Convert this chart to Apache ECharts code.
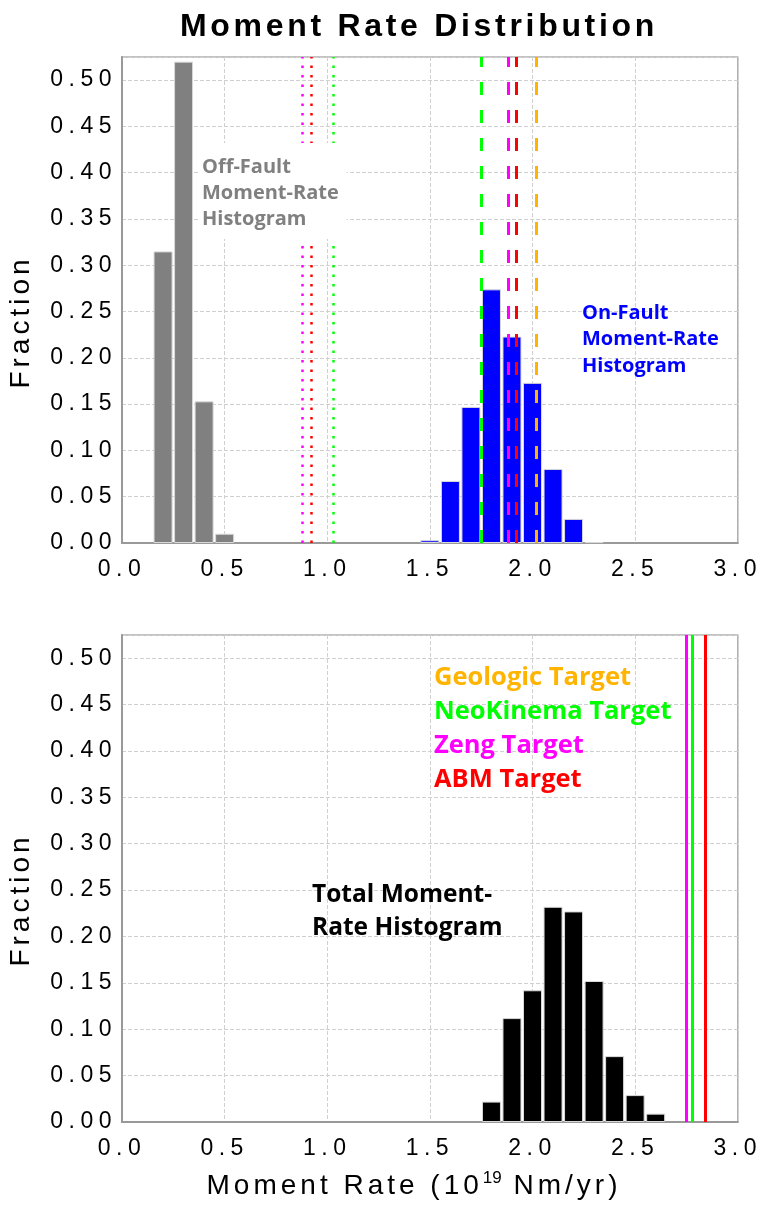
<!DOCTYPE html>
<html><head><meta charset="utf-8">
<script src="https://cdn.jsdelivr.net/npm/echarts@6/dist/echarts.min.js"></script>
<style>html,body{margin:0;padding:0;background:#fff}#c{width:765px;height:1208px}</style>
</head><body><div id="c"></div>
<script>
// ---------------- data ----------------
const offFaultBins = [0.2, 0.3, 0.4, 0.5];
const offFaultFrac = [0.315, 0.520, 0.153, 0.010];
const onFaultBins = [1.5, 1.6, 1.7, 1.8, 1.9, 2.0, 2.1, 2.2, 2.3];
const onFaultFrac = [0.003, 0.067, 0.147, 0.274, 0.223, 0.173, 0.080, 0.026, 0.001];
const totalBins = [1.8, 1.9, 2.0, 2.1, 2.2, 2.3, 2.4, 2.5, 2.6];
const totalFrac = [0.022, 0.112, 0.142, 0.232, 0.227, 0.152, 0.071, 0.029, 0.009];

const targetNames = ['Geologic Target', 'NeoKinema Target', 'Zeng Target', 'ABM Target'];
const targetColors = ['#ffb400', '#00ff00', '#ff00ff', '#ff0000'];
// off-fault targets (dotted), on-fault targets (dashed), total targets (solid); null = not shown
const offFaultTargets = [null, 1.031, 0.875, 0.924];
const onFaultTargets = [2.016, 1.751, 1.880, 1.919];
const totalTargets = [null, 2.782, 2.751, 2.843];

const xTicks = { min: 0, max: 3, interval: 0.5 };
const yTicks = { min: 0, max: 0.525, interval: 0.05 };

// ------------- letter spacing for the Helvetica-like texts -------------
const SPACING = { '23': 5.5, '28': 4, '32': 3.7 };
function applySpacing(ctx) {
  const f = ctx.font || '';
  if (f.indexOf('Liberation Sans') < 0) return false;
  const m = f.match(/(\d+(?:\.\d+)?)px/);
  const s = m && SPACING[m[1]];
  if (!s || !('letterSpacing' in ctx)) return false;
  ctx.letterSpacing = s + 'px';
  return true;
}
['fillText', 'strokeText', 'measureText'].forEach(fn => {
  const orig = CanvasRenderingContext2D.prototype[fn];
  CanvasRenderingContext2D.prototype[fn] = function () {
    const had = applySpacing(this);
    const r = orig.apply(this, arguments);
    if (had) this.letterSpacing = '0px';
    return r;
  };
});

// ---------------- chart ----------------
const pairs = (xs, ys) => xs.map((x, i) => [x, ys[i]]);
const lines = (vals, type, width) => vals.map((v, i) => v == null ? null : {
  xAxis: v, lineStyle: { color: targetColors[i], type: type, width: width }
}).filter(Boolean);

const tickFont = { fontFamily: 'Liberation Sans', fontSize: 23, color: '#000' };

function xAxis(idx) {
  return {
    type: 'value', gridIndex: idx, min: xTicks.min, max: xTicks.max, interval: xTicks.interval,
    axisLine: { show: true, onZero: false, lineStyle: { color: '#999', width: 2 } },
    axisTick: { show: false },
    axisLabel: Object.assign({ margin: 12, formatter: v => v.toFixed(1) }, tickFont),
    splitLine: { show: true, lineStyle: { type: 'dashed', color: '#d0d0d0', width: 1 } }
  };
}
function yAxis(idx) {
  return {
    type: 'value', gridIndex: idx, min: yTicks.min, max: yTicks.max, interval: yTicks.interval,
    axisLine: { show: true, lineStyle: { color: '#999', width: 2 } },
    axisTick: { show: false },
    axisLabel: Object.assign({
      margin: 5,
      formatter: v => Math.abs(v / 0.05 - Math.round(v / 0.05)) < 1e-6 ? v.toFixed(2) : ''
    }, tickFont),
    splitLine: { show: true, lineStyle: { type: 'dashed', color: '#d0d0d0', width: 1 } }
  };
}

const barStyle = c => ({ color: c, borderColor: '#d8d8d8', borderWidth: 1 });
const ML = { symbol: ['none', 'none'], silent: true, animation: false, label: { show: false } };

const annot = (text, x, y, color, size, lh, extra) => Object.assign({
  type: 'text', z: 100,
  style: Object.assign({ text: text, x: x, y: y, fill: color, font: 'bold ' + size + 'px "Open Sans"', lineHeight: lh, align: 'left', verticalAlign: 'top' }, extra || {})
});

const option = {
  animation: false,
  backgroundColor: '#fff',
  grid: [
    { left: 122, top: 57, width: 618, height: 486, show: true, borderColor: '#b0b0b0', borderWidth: 1.5, backgroundColor: 'transparent' },
    { left: 122, top: 635, width: 618, height: 487, show: true, borderColor: '#b0b0b0', borderWidth: 1.5, backgroundColor: 'transparent' }
  ],
  xAxis: [xAxis(0), xAxis(1)],
  yAxis: [yAxis(0), yAxis(1)],
  series: [
    { type: 'bar', xAxisIndex: 0, yAxisIndex: 0, barWidth: 19, barGap: '-100%', data: pairs(offFaultBins, offFaultFrac), itemStyle: barStyle('#808080'),
      markLine: Object.assign({ data: lines(offFaultTargets, [2.5, 7], 2.5) }, ML) },
    { type: 'bar', xAxisIndex: 0, yAxisIndex: 0, barWidth: 19, barGap: '-100%', data: pairs(onFaultBins, onFaultFrac), itemStyle: barStyle('#0000ff'),
      markLine: Object.assign({ data: lines(onFaultTargets, [13, 15], 3) }, ML) },
    { type: 'bar', xAxisIndex: 1, yAxisIndex: 1, barWidth: 19, data: pairs(totalBins, totalFrac), itemStyle: barStyle('#000000'),
      markLine: Object.assign({ data: lines(totalTargets, 'solid', 3) }, ML) }
  ],
  graphic: [
    { type: 'text', z: 100, style: { text: 'Moment Rate Distribution', x: 419, y: 27, align: 'center', verticalAlign: 'middle', font: 'bold 32px "Liberation Sans"', fill: '#000' } },
    { type: 'text', z: 100, x: 21, y: 322, rotation: Math.PI / 2, style: { text: 'Fraction', x: 0, y: 0, align: 'center', verticalAlign: 'middle', font: '28px "Liberation Sans"', fill: '#000' } },
    { type: 'text', z: 100, x: 21, y: 900, rotation: Math.PI / 2, style: { text: 'Fraction', x: 0, y: 0, align: 'center', verticalAlign: 'middle', font: '28px "Liberation Sans"', fill: '#000' } },
    { type: 'text', z: 100, style: {
      text: '{a|Moment Rate (10}{s|19}{a| Nm/yr)}', x: 414, y: 1186, align: 'center', verticalAlign: 'middle',
      rich: { a: { font: '28px "Liberation Sans"', fill: '#000', verticalAlign: 'bottom' }, s: { font: '17px "Liberation Sans"', fill: '#000', verticalAlign: 'top', padding: [0, 0, 14, 0] } }
    } },
    annot('Off-Fault\nMoment-Rate\nHistogram', 198, 143, '#808080', 20, 26, { backgroundColor: '#fff', padding: [11, 8, 7, 4] }),
    annot('On-Fault\nMoment-Rate\nHistogram', 582, 300, '#0000ff', 20, 26.5),
    annot('Total Moment-\nRate Histogram', 312, 879, '#000000', 24.5, 33),
    annot(targetNames[0], 434, 661, targetColors[0], 25.5, 34),
    annot(targetNames[1], 434, 695, targetColors[1], 25.5, 34),
    annot(targetNames[2], 434, 729, targetColors[2], 25.5, 34),
    annot(targetNames[3], 434, 763, targetColors[3], 25.5, 34)
  ]
};

const chart = echarts.init(document.getElementById('c'), null, { renderer: 'canvas' });
chart.setOption(option);
</script>
</body></html>
